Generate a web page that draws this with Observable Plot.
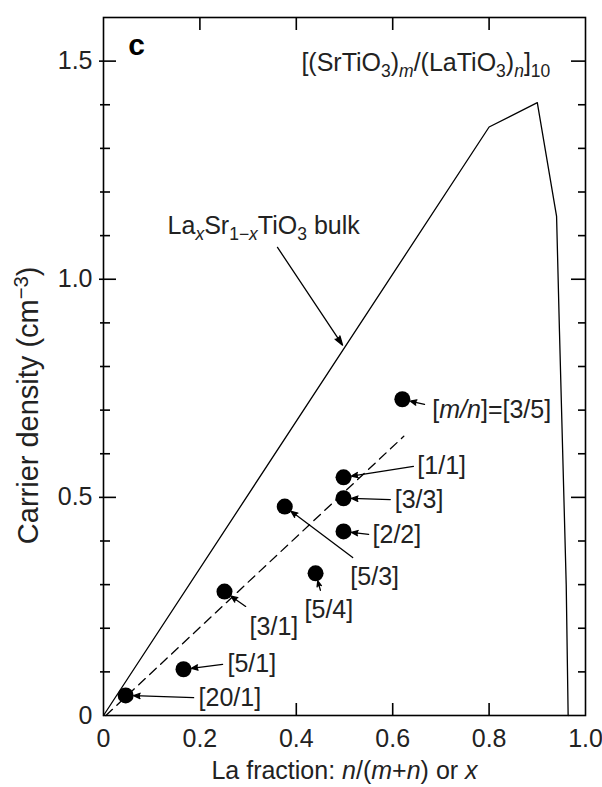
<!DOCTYPE html>
<html><head><meta charset="utf-8">
<script src="https://cdn.jsdelivr.net/npm/d3@7"></script>
<script src="https://cdn.jsdelivr.net/npm/@observablehq/plot@0.6"></script>
<style>
html,body{margin:0;padding:0;background:#fff;}
#chart svg{display:block;}
</style></head><body><div id="chart"></div>
<script>
// ---- data ----
const bulkX = [0, 0.80, 0.90, 0.94, 0.946, 0.960, 0.964];
const bulkY = [0, 1.349, 1.405, 1.144, 0.88, 0.30, 0];
const fitX = [0.005, 0.623];
const fitY = [0, 0.640];
const sampleLabels = ["[20/1]", "[5/1]", "[3/1]", "[5/3]", "[5/4]", "[2/2]", "[3/3]", "[1/1]", "[3/5]"];
const sampleX = [0.046, 0.166, 0.251, 0.376, 0.440, 0.498, 0.498, 0.498, 0.620];
const sampleY = [0.046, 0.106, 0.284, 0.479, 0.326, 0.422, 0.498, 0.546, 0.725];
const xTicks = [0, 0.2, 0.4, 0.6, 0.8, 1.0];
const xTickLabels = ["0", "0.2", "0.4", "0.6", "0.8", "1.0"];
const xTopTicks = [0.2, 0.4, 0.6, 0.8];
const xBottomTicks = [0.4, 0.6, 0.8];
const yTicks = [0, 0.5, 1.0, 1.5];
const yTickLabels = ["0", "0.5", "1.0", "1.5"];
const yMinorTicks = [0.1, 0.2, 0.3, 0.4, 0.6, 0.7, 0.8, 0.9, 1.1, 1.2, 1.3, 1.4];
const yMajorTicks = [0.5, 1.0, 1.5];
const xTitle = "La fraction: n/(m+n) or x";
const yTitle = "Carrier density (cm−3)";
const seriesTitle = "[(SrTiO3)m/(LaTiO3)n]10";
const bulkLabel = "LaxSr1−xTiO3 bulk";
const panelLabel = "c";

// ---- annotation layout (data coordinates) ----
const labelPrefix = ["", "", "", "", "", "", "", "", "[m/n]="];
const tailX = [0.187, 0.247, 0.295, 0.517, 0.450, 0.550, 0.595, 0.643, 0.666];
const tailY = [0.041, 0.117, 0.250, 0.362, 0.287, 0.415, 0.495, 0.571, 0.713];
const textX = [0.193, 0.253, 0.299, 0.508, 0.413, 0.554, 0.600, 0.647, 0.678];
const textY = [0.039, 0.117, 0.202, 0.317, 0.241, 0.413, 0.493, 0.573, 0.700];
const bulkArrow = {x1: 0.361, y1: 1.073, x2: 0.496, y2: 0.849, tx: 0.133, ty: 1.122};
const titlePos = {x: 0.927, y: 1.495};
const yTitlePos = 0.711;

const bulk = bulkX.map((x, i) => ({x, y: bulkY[i]}));
const fit = fitX.map((x, i) => ({x, y: fitY[i]}));
const samples = sampleLabels.map((label, i) => ({
  label, x: sampleX[i], y: sampleY[i],
  tx: tailX[i], ty: tailY[i], lx: textX[i], ly: textY[i],
  text: labelPrefix[i] + label
}));

const FONT = "'Liberation Sans', Arial, Helvetica, sans-serif";
const FS = 25;
const W = 602, H = 787, ML = 103, MR = 17, MT = 17, MB = 72;
const FW = W - ML - MR, FH = H - MT - MB;
const tk = {stroke: "black", strokeWidth: 1.6};

const svg = Plot.plot({
  width: W, height: H,
  marginLeft: ML, marginRight: MR, marginTop: MT, marginBottom: MB,
  x: {domain: [0, 1], axis: null},
  y: {domain: [0, 1.6], axis: null},
  style: {fontFamily: FONT, background: "white", color: "black"},
  marks: [
    // tick labels
    Plot.text(xTicks, {x: d => d, text: (d, i) => xTickLabels[i], frameAnchor: "bottom", lineAnchor: "middle", textAnchor: "middle", dy: 23, fontSize: FS, fontFamily: FONT, fill: "#222"}),
    Plot.text(yTicks, {y: d => d, text: (d, i) => yTickLabels[i], frameAnchor: "left", lineAnchor: "middle", textAnchor: "end", dx: -11, fontSize: FS, fontFamily: FONT, fill: "#222"}),
    // axis titles
    Plot.text([xTitle], {frameAnchor: "bottom", lineAnchor: "middle", textAnchor: "middle", dy: 55, fontSize: FS, fontFamily: FONT, fill: "#222"}),
    Plot.text([yTitle], {y: () => yTitlePos, frameAnchor: "left", lineAnchor: "middle", textAnchor: "middle", dx: -75, rotate: -90, fontSize: 29, fontFamily: FONT, fill: "#222"}),
    // lines
    Plot.line(bulk, {x: "x", y: "y", stroke: "black", strokeWidth: 1.3}),
    Plot.line(fit, {x: "x", y: "y", stroke: "black", strokeWidth: 1.3, strokeDasharray: "9,6"}),
    // annotation arrows
    Plot.arrow(samples, {x1: "tx", y1: "ty", x2: "x", y2: "y", insetEnd: 8, headLength: 8, headAngle: 45, stroke: "black", fill: "black", strokeWidth: 1.3}),
    Plot.arrow([bulkArrow], {x1: "x1", y1: "y1", x2: "x2", y2: "y2", headLength: 11, headAngle: 35, stroke: "black", fill: "black", strokeWidth: 1.3}),
    // points
    Plot.dot(samples, {x: "x", y: "y", r: 8, fill: "black", stroke: "none"}),
    // labels
    Plot.text(samples, {x: "lx", y: "ly", text: "text", textAnchor: "start", lineAnchor: "middle", dx: 2, fontSize: FS, fontFamily: FONT, fill: "#222"}),
    Plot.text([bulkArrow], {x: "tx", y: "ty", text: () => bulkLabel, textAnchor: "start", lineAnchor: "middle", fontSize: FS, fontFamily: FONT, fill: "#222"}),
    Plot.text([titlePos], {x: "x", y: "y", text: () => seriesTitle, textAnchor: "end", lineAnchor: "middle", fontSize: FS, fontFamily: FONT, fill: "#222"}),
    Plot.text([panelLabel], {frameAnchor: "top-left", textAnchor: "middle", lineAnchor: "middle", dx: 33, dy: 28, fontSize: 30, fontWeight: "bold", fontFamily: FONT, fill: "black"}),
    // frame and inward ticks, drawn last so nothing covers them
    Plot.frame({stroke: "black", strokeWidth: 1.6}),
    Plot.tickX(xBottomTicks, {x: d => d, insetTop: FH - 12, ...tk}),
    Plot.tickX(xTopTicks, {x: d => d, insetBottom: FH - 13, ...tk}),
    Plot.tickY(yMinorTicks, {y: d => d, insetLeft: -3, insetRight: FW - 7, ...tk}),
    Plot.tickY(yMajorTicks, {y: d => d, insetLeft: -4, insetRight: FW - 13, ...tk}),
    Plot.tickY(yMinorTicks, {y: d => d, insetLeft: FW - 7, ...tk}),
    Plot.tickY(yMajorTicks, {y: d => d, insetLeft: FW - 14, ...tk})
  ]
});

// ---- rich text (italics, sub/superscripts) ----
const SUB = 6, SUP = -10;
const rich = {
  [seriesTitle]: [["[(SrTiO"], ["3", "sub"], [")"], ["m", "subi"], ["/(LaTiO"], ["3", "sub"], [")"], ["n", "subi"], ["]"], ["10", "sub"]],
  [bulkLabel]: [["La"], ["x", "subi"], ["Sr"], ["1−", "sub"], ["x", "subi"], ["TiO"], ["3", "sub"], [" bulk"]],
  [xTitle]: [["La fraction: "], ["n", "i"], ["/("], ["m", "i"], ["+"], ["n", "i"], [") or "], ["x", "i"]],
  [yTitle]: [["Carrier density (cm"], ["−3", "sup"], [")"]],
  ["[m/n]=[3/5]"]: [["["], ["m/n", "i"], ["]=[3/5]"]]
};
const NS = "http://www.w3.org/2000/svg";
svg.querySelectorAll("text").forEach(t => {
  const parts = rich[t.textContent];
  if (!parts) return;
  t.textContent = "";
  let shift = 0;
  for (const [s, k = ""] of parts) {
    const ts = document.createElementNS(NS, "tspan");
    ts.textContent = s;
    const target = k.startsWith("sub") ? SUB : k === "sup" ? SUP : 0;
    if (target !== shift) { ts.setAttribute("dy", target - shift); shift = target; }
    if (k.startsWith("sub") || k === "sup") ts.setAttribute("font-size", "0.7em");
    if (k.endsWith("i")) ts.setAttribute("font-style", "italic");
    t.appendChild(ts);
  }
});
document.getElementById("chart").appendChild(svg);
</script>
</body></html>
